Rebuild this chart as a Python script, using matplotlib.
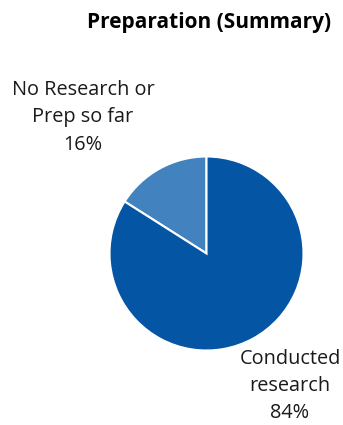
import matplotlib
matplotlib.use("Agg")
import matplotlib.pyplot as plt

# Survey split for the preparation question
categories = ["No Research or\nPrep so far", "Conducted\nresearch"]
shares = [16, 84]
colors = ["#4283BF", "#0455A4"]

plt.rcParams["font.family"] = ["Open Sans", "DejaVu Sans"]

W, H = 343, 425
fig = plt.figure(figsize=(W / 100, H / 100), dpi=100)
ax = fig.add_axes([0, 0, 1, 1])
ax.set_xlim(0, W)
ax.set_ylim(0, H)
ax.set_aspect("equal")
ax.axis("off")

ax.pie(shares, colors=colors, startangle=90, counterclock=True,
       center=(206.5, H - 253.5), radius=97,
       wedgeprops=dict(edgecolor="white", linewidth=1.5))
ax.set_xlim(0, W)
ax.set_ylim(0, H)

# Slice labels sit outside the pie
label_pos = [(83, H - 117), (290, H - 386)]
for name, share, (x, y) in zip(categories, shares, label_pos):
    ax.text(x, y, f"{name}\n{share}%", ha="center", va="center",
            fontsize=14.3, color="#1a1a1a", linespacing=1.5)

ax.text(209.5, H - 22, "Preparation (Summary)", ha="center", va="center",
        fontsize=15, fontweight="bold", color="black")

fig.savefig("out.png", dpi=100)
